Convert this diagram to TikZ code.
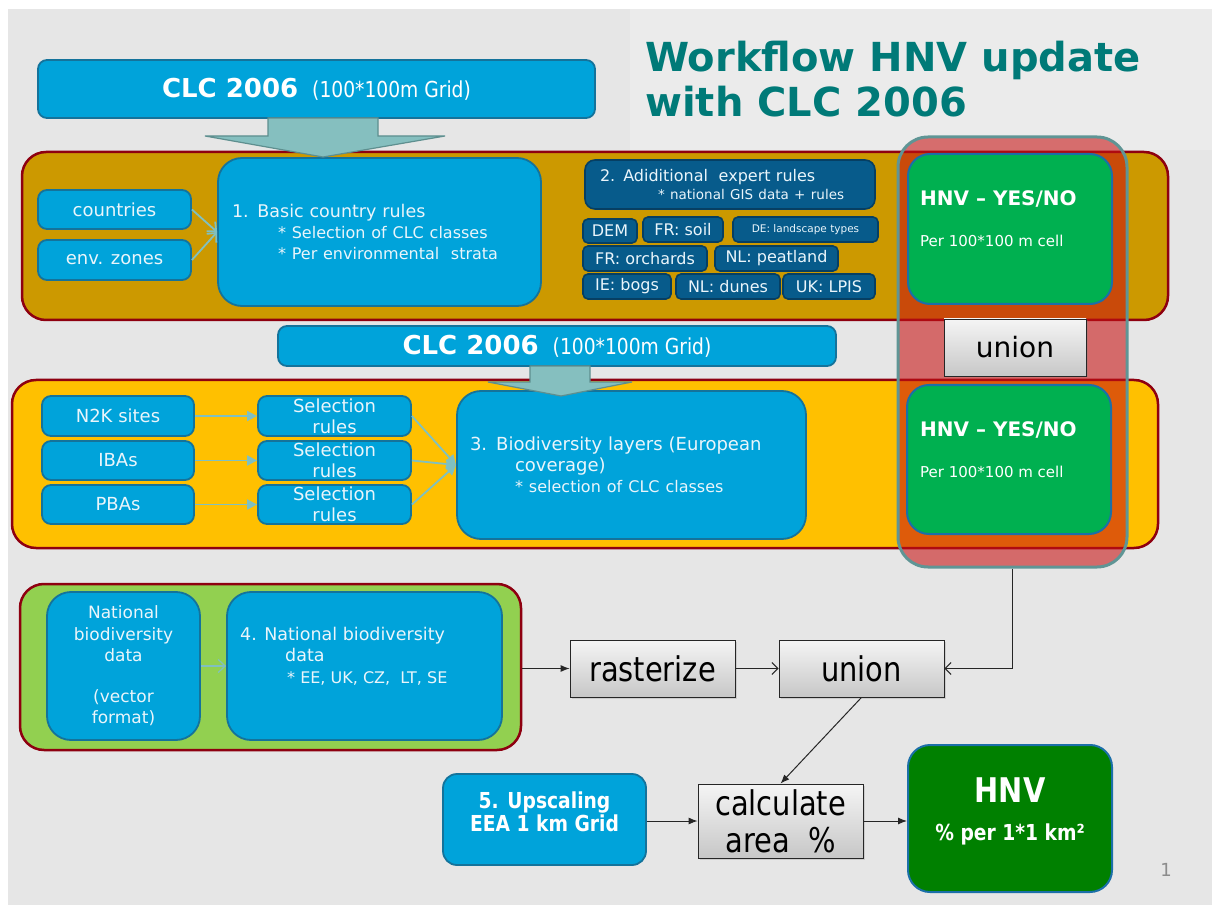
\documentclass[tikz,border=0pt]{standalone}
\usepackage{fontspec}
\setmainfont{DejaVu Sans}
\newfontfamily\condf{DejaVu Sans}[FakeStretch=0.85]
\usetikzlibrary{arrows.meta,shadows}
\definecolor{bg}{HTML}{E6E6E6}
\definecolor{bgT}{HTML}{EBEBEB}
\definecolor{cblue}{HTML}{00A3DA}
\definecolor{cblueb}{HTML}{14739B}
\definecolor{dblue}{HTML}{075B8B}
\definecolor{dblueb}{HTML}{063F63}
\definecolor{cgold}{HTML}{CC9900}
\definecolor{camber}{HTML}{FFC000}
\definecolor{clime}{HTML}{92D050}
\definecolor{bandb}{HTML}{8E0010}
\definecolor{hgreen}{HTML}{00B050}
\definecolor{dgreen}{HTML}{008000}
\definecolor{gbord}{HTML}{1B6FA8}
\definecolor{cteal}{HTML}{80C0C0}
\definecolor{arrfill}{HTML}{85BFBF}
\definecolor{arrbord}{HTML}{5E8F8F}
\definecolor{pillred}{RGB}{199,18,18}
\definecolor{pillb}{HTML}{5F9595}
\definecolor{titlec}{HTML}{007A78}
\definecolor{ltext}{HTML}{EAF5FB}
\tikzset{
  bluebox/.style={draw=cblueb, line width=1.8pt, fill=cblue, rounded corners=9pt, text=ltext, inner sep=0pt, font=\fontsize{18}{21}\selectfont},
  bigblue/.style={bluebox, rounded corners=24pt},
  smallbox/.style={draw=dblueb, line width=1.6pt, fill=dblue, rounded corners=5pt, text=ltext, inner sep=0pt, font=\fontsize{16}{18}\selectfont},
  band/.style={draw=bandb, line width=2.5pt, rounded corners=24pt, inner sep=0pt},
  greenbox/.style={draw=gbord, line width=2pt, fill=hgreen, rounded corners=22pt, inner sep=0pt},
  graybox/.style={draw=black!85, line width=0.8pt, top color=white!96!black, bottom color=black!22, inner sep=0pt, text=black, font=\condf\fontsize{34}{37}\selectfont, drop shadow={opacity=0.25, shadow xshift=1.5pt, shadow yshift=-1.5pt}},
  blockarrow/.style={fill=arrfill, draw=arrbord, line width=1.2pt, line join=miter},
  tarr/.style={draw=cteal, line width=1.8pt, -{Straight Barb[length=7pt,width=13pt]}},
  farr/.style={draw=cteal, line width=1.8pt, -{Triangle[length=10pt,width=10pt]}},
  barr/.style={draw=black!85, line width=1pt, -{Latex[length=9pt,width=7pt]}},
  oarr/.style={draw=black!85, line width=1pt, -{Straight Barb[length=6pt,width=12pt]}},
  gtext/.style={anchor=west, text=white, inner sep=0pt},
}
\begin{document}
\begin{tikzpicture}[x=1pt,y=-1pt]
\useasboundingbox (0,0) rectangle (1216,909);
\fill[white] (0,0) rectangle (1216,909);
\fill[bg] (8,9) rectangle (1212,905);
\fill[bgT] (630,9) rectangle (1212,150);

% title
\node[anchor=base west, inner sep=0pt, text=titlec, font=\bfseries\fontsize{40}{44}\selectfont] (t1) at (645,72) {Workflow HNV update};
\node[anchor=base west, inner sep=0pt, text=titlec, font=\bfseries\fontsize{40}{44}\selectfont] (t2) at (645,117) {with CLC 2006};

% CLC top
\node[bluebox, text=white, minimum width=557pt, minimum height=58pt] (clcA) at (316.5,89)
  {{\bfseries\fontsize{26}{28}\selectfont CLC 2006}\hspace{14pt}{\condf\fontsize{22}{24}\selectfont(100*100m Grid)}};

% band 1
\node[band, fill=cgold, minimum width=1146pt, minimum height=168pt] (band1) at (595,236) {};
\node[bluebox, minimum width=153pt, minimum height=39pt] (countries) at (114.5,209.5) {countries};
\node[bluebox, minimum width=153pt, minimum height=40pt] (envzones) at (114.5,260) {env. zones};
\node[bigblue, minimum width=323pt, minimum height=148pt, text width=295pt, align=left, font=\fontsize{17.5}{21}\selectfont] (box1) at (379.5,232)
  {1. Basic country rules\\
   \hspace*{46pt}{\fontsize{16}{21}\selectfont * Selection of CLC classes}\\
   \hspace*{46pt}{\fontsize{16}{21}\selectfont * Per environmental\ \ strata}};
\node[smallbox, rounded corners=10pt, minimum width=290pt, minimum height=49pt, text width=260pt, align=left, font=\fontsize{16}{18}\selectfont] (box2) at (730,184.5)
  {2. Adiditional\ \ expert rules\\
   \hspace*{58pt}{\fontsize{13.5}{18}\selectfont * national GIS data + rules}};
\node[smallbox, minimum width=54pt, minimum height=24pt] (dem) at (610,231) {DEM};
\node[smallbox, minimum width=80pt, minimum height=25pt] (frsoil) at (683,229.5) {FR: soil};
\node[smallbox, minimum width=145pt, minimum height=25pt, font=\fontsize{10.5}{12}\selectfont] (delt) at (805.5,229.5) {DE: landscape types};
\node[smallbox, minimum width=124pt, minimum height=25pt] (frorch) at (645,258.5) {FR: orchards};
\node[smallbox, minimum width=123pt, minimum height=25pt] (nlpeat) at (776.5,258.5) {NL: peatland};
\node[smallbox, minimum width=88pt, minimum height=25pt] (iebogs) at (627,286.5) {IE: bogs};
\node[smallbox, minimum width=104pt, minimum height=25pt] (nldunes) at (728,286.5) {NL: dunes};
\node[smallbox, minimum width=92pt, minimum height=25pt] (uklpis) at (829,286.5) {UK: LPIS};
\draw[tarr] (countries.east) -- (box1.west);
\draw[tarr] (envzones.east) -- (box1.west);

% block arrow 1
\draw[blockarrow] (268,118) -- (378,118) -- (378,136) -- (445,136) -- (323,157) -- (205,136) -- (268,136) -- cycle;

% CLC second
\node[bluebox, text=white, minimum width=558pt, minimum height=40pt] (clcB) at (557,346)
  {{\bfseries\fontsize{26}{28}\selectfont CLC 2006}\hspace{14pt}{\condf\fontsize{22}{24}\selectfont(100*100m Grid)}};

% band 2
\node[band, fill=camber, minimum width=1146pt, minimum height=168pt] (band2) at (585,464) {};
\node[bluebox, minimum width=152pt, minimum height=40pt] (n2k) at (118,416) {N2K sites};
\node[bluebox, minimum width=152pt, minimum height=39pt] (ibas) at (118,460.5) {IBAs};
\node[bluebox, minimum width=152pt, minimum height=39pt] (pbas) at (118,504.5) {PBAs};
\node[bluebox, minimum width=153pt, minimum height=40pt, align=center] (sel1) at (334.5,416) {Selection\\rules};
\node[bluebox, minimum width=153pt, minimum height=39pt, align=center] (sel2) at (334.5,460.5) {Selection\\rules};
\node[bluebox, minimum width=153pt, minimum height=39pt, align=center] (sel3) at (334.5,504.5) {Selection\\rules};
\node[bigblue, minimum width=349pt, minimum height=148pt, text width=323pt, align=left] (box3) at (631.5,465)
  {3. Biodiversity layers (European\\
   \hspace*{45pt}coverage)\\
   \hspace*{45pt}{\fontsize{16}{21}\selectfont * selection of CLC classes}};
\draw[farr] (n2k.east) -- (sel1.west);
\draw[farr] (ibas.east) -- (sel2.west);
\draw[farr] (pbas.east) -- (sel3.west);
\draw[farr] (sel1.east) -- (box3.west);
\draw[farr] (sel2.east) -- (box3.west);
\draw[farr] (sel3.east) -- (box3.west);

% block arrow 2
\draw[blockarrow] (530,366) -- (590,366) -- (590,382) -- (632,382) -- (561,396) -- (488,382) -- (530,382) -- cycle;

% band 3
\node[band, fill=clime, minimum width=501pt, minimum height=166pt] (band3) at (270.5,667) {};
\node[bigblue, minimum width=153pt, minimum height=148pt, align=center, font=\fontsize{17}{21.5}\selectfont] (nbd) at (123.5,666)
  {National\\biodiversity\\data\\[19pt](vector\\format)};
\node[bigblue, minimum width=275pt, minimum height=148pt] (box4) at (364.5,666) {};
\node[anchor=north west, inner sep=0pt, text=ltext, align=left, font=\fontsize{17.5}{21.5}\selectfont] (box4t) at (240,627)
  {4. National biodiversity\\
   \hspace*{45pt}data\\
   \hspace*{47pt}{\fontsize{16}{21.5}\selectfont * EE, UK, CZ,\ \ LT, SE}};
\draw[tarr, line width=1.2pt] (nbd.east) -- (box4.west);

% red pill (union of the two HNV layers)
\node[draw=pillb, line width=3pt, fill=pillred, fill opacity=0.58, rounded corners=30pt, minimum width=229pt, minimum height=430pt, inner sep=0pt] (pill) at (1012.5,352) {};
\node[greenbox, minimum width=204pt, minimum height=150pt] (g1) at (1010,229) {};
\node[gtext, font=\bfseries\fontsize{20}{22}\selectfont] (g1a) at (920,199) {HNV – YES/NO};
\node[gtext, font=\fontsize{15}{17}\selectfont] (g1b) at (920,241) {Per 100*100\ m\ cell};
\node[graybox, font=\fontsize{28}{30}\selectfont, minimum width=142pt, minimum height=57pt] (union1) at (1015,347.5) {union};
\node[greenbox, minimum width=204pt, minimum height=149pt] (g2) at (1009,459.5) {};
\node[gtext, font=\bfseries\fontsize{20}{22}\selectfont] (g2a) at (920,430) {HNV – YES/NO};
\node[gtext, font=\fontsize{15}{17}\selectfont] (g2b) at (920,472) {Per 100*100\ m\ cell};

% bottom process
\node[graybox, minimum width=165pt, minimum height=57pt] (rast) at (652.5,668.5) {rasterize};
\node[graybox, minimum width=165pt, minimum height=57pt] (union2) at (861.5,668.5) {union};
\node[graybox, minimum width=165pt, minimum height=74pt, align=center] (calc) at (780.5,821) {calculate\\area\ \ \%};
\node[bluebox, rounded corners=14pt, text=white, minimum width=203pt, minimum height=91pt, align=center, font=\condf\bfseries\fontsize{22}{23.5}\selectfont] (upsc) at (544.5,819.5) {5. Upscaling\\EEA 1 km Grid\\[-8pt]\mbox{}};
\node[greenbox, fill=dgreen, text=white, minimum width=204pt, minimum height=147pt, align=center, font=\condf\bfseries\fontsize{22}{24}\selectfont] (hnv) at (1010,818.5)
  {{\fontsize{34}{36}\selectfont HNV}\\[14pt]\% per 1*1 km²\\[-6pt]\mbox{}};
\node[inner sep=0pt, text=black!45, font=\fontsize{18}{20}\selectfont] (pnum) at (1166,870) {1};

\draw[barr] (band3.east |- rast.west) -- (rast.west);
\draw[oarr] (rast.east) -- (union2.west);
\draw[oarr] (pill.south) |- (union2.east);
\draw[barr] (union2.south) -- (calc.north);
\draw[barr] (upsc.east |- calc.west) -- (calc.west);
\draw[barr] (calc.east) -- (calc.east -| hnv.west);
\end{tikzpicture}
\end{document}
